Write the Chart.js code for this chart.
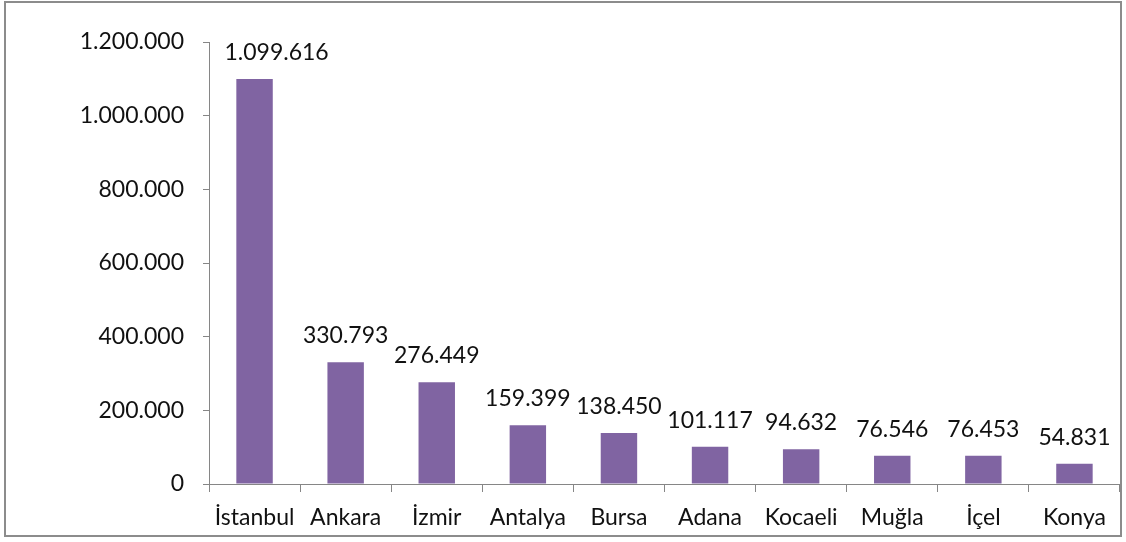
<!DOCTYPE html>
<html lang="tr">
<head>
  <meta charset="UTF-8">
  <title>İllere göre dağılım</title>
  <script src="https://cdn.jsdelivr.net/npm/chart.js"></script>
  <style>
    body { margin: 0; background: #fff; }
    .chart-box {
      position: absolute;
      left: 4px;
      top: 1px;
      width: 1114px;
      height: 532px;
      border: 2px solid #8c8c8c;
    }
  </style>
</head>
<body>
  <!-- Marco del gráfico -->
  <div class="chart-box">
    <canvas id="barChart" width="1114" height="532"></canvas>
  </div>

  <script>
    // Datos del gráfico
    const cities = ['İstanbul', 'Ankara', 'İzmir', 'Antalya', 'Bursa', 'Adana', 'Kocaeli', 'Muğla', 'İçel', 'Konya'];
    const values = [1099616, 330793, 276449, 159399, 138450, 101117, 94632, 76546, 76453, 54831];
    const yTicks = [0, 200000, 400000, 600000, 800000, 1000000, 1200000];

    const axisColor = '#868686';
    const textColor = '#111111';
    const font = { family: 'Lato', size: 23 };

    // 1234567 -> "1.234.567"
    function dotted(v) {
      return String(v).replace(/\B(?=(\d{3})+(?!\d))/g, '.');
    }

    // Etiquetas de valor encima de cada barra
    const valueLabels = {
      id: 'valueLabels',
      afterDatasetsDraw(chart) {
        const ctx = chart.ctx;
        const meta = chart.getDatasetMeta(0);
        ctx.save();
        ctx.font = font.size + 'px ' + font.family;
        ctx.fillStyle = textColor;
        ctx.textAlign = 'center';
        ctx.textBaseline = 'alphabetic';
        meta.data.forEach((bar, i) => {
          // la primera etiqueta está desplazada a la derecha en el original
          const shift = i === 0 ? 22 : 0;
          ctx.fillText(dotted(values[i]), bar.x + shift, bar.y - 19);
        });
        ctx.restore();
      }
    };

    const ctxBar = document.getElementById('barChart').getContext('2d');
    new Chart(ctxBar, {
      type: 'bar',
      data: {
        labels: cities,
        datasets: [{
          data: values,
          backgroundColor: '#8064a2',
          borderWidth: 0,
          categoryPercentage: 1,
          barPercentage: 0.4
        }]
      },
      options: {
        responsive: false,
        animation: false,
        layout: { padding: { top: 39, right: 0, bottom: 0, left: 0 } },
        plugins: {
          legend: { display: false },
          tooltip: { enabled: false }
        },
        scales: {
          x: {
            afterFit(scale) { scale.height = 51; },
            grid: {
              offset: true,
              drawOnChartArea: false,
              tickLength: 8,
              color: axisColor
            },
            border: { color: axisColor },
            ticks: {
              color: textColor,
              font: font,
              padding: 12,
              maxRotation: 0,
              autoSkip: false
            }
          },
          y: {
            min: 0,
            max: 1200000,
            afterFit(scale) { scale.width = 203; },
            afterBuildTicks(scale) {
              scale.ticks = yTicks.map(v => ({ value: v }));
            },
            grid: {
              drawOnChartArea: false,
              tickLength: 6,
              color: axisColor
            },
            border: { color: axisColor },
            ticks: {
              color: textColor,
              font: font,
              padding: 19,
              callback: v => dotted(v)
            }
          }
        }
      },
      plugins: [valueLabels]
    });
  </script>
</body>
</html>
